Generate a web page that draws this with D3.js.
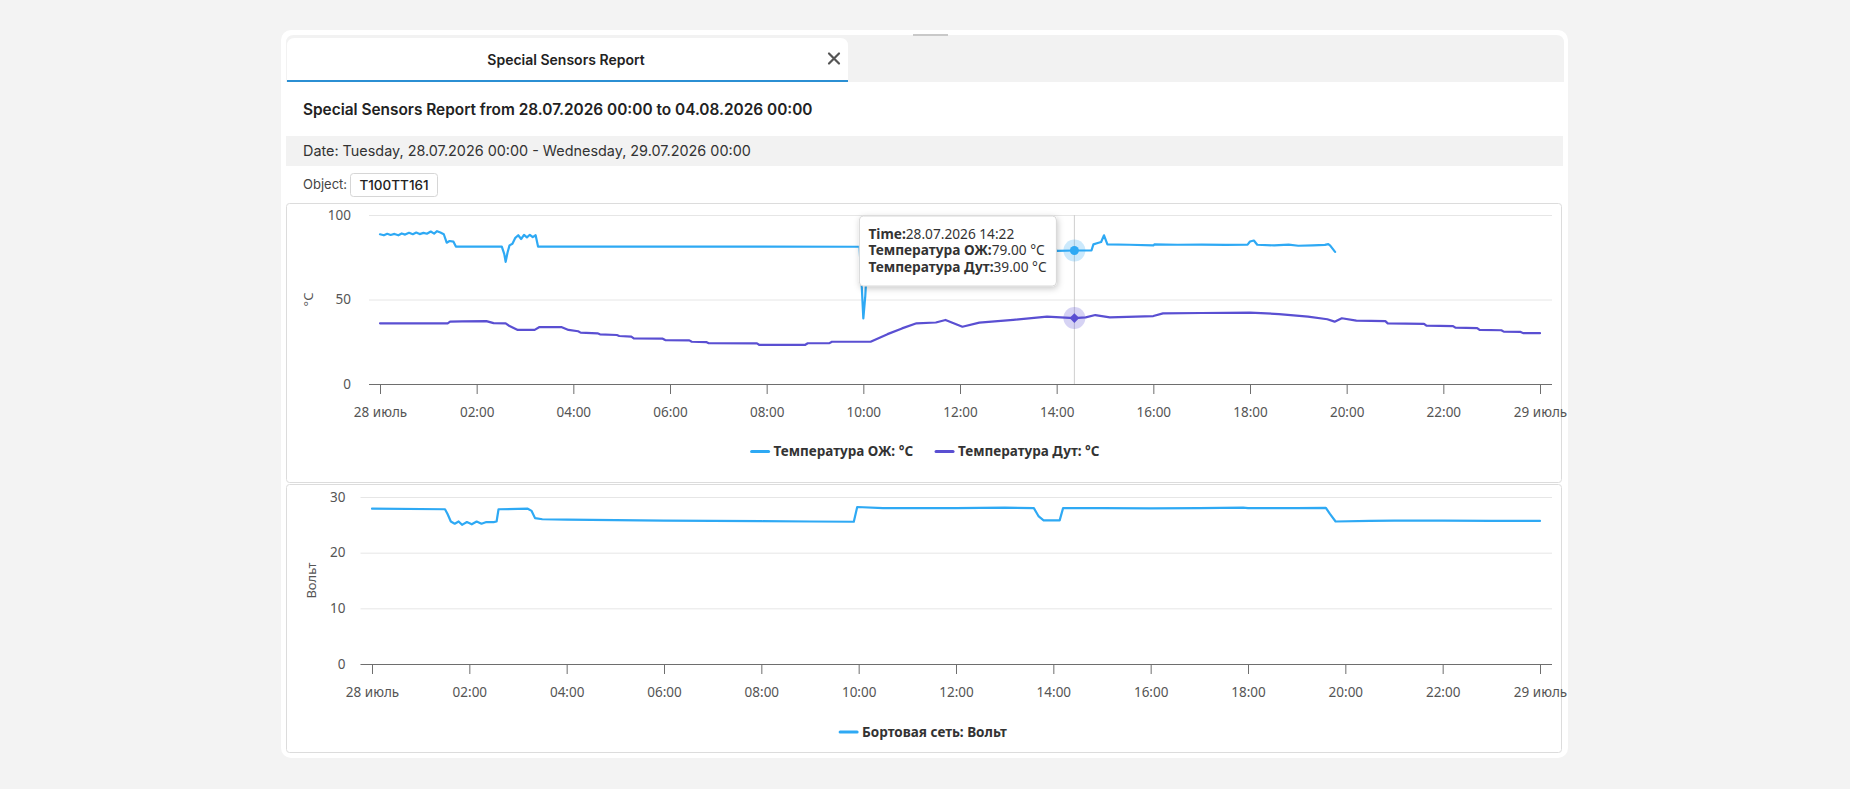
<!DOCTYPE html>
<html>
<head>
<meta charset="utf-8">
<script src="https://cdn.jsdelivr.net/npm/d3@7/dist/d3.min.js"></script>
<style>
  body { margin: 0; background: #f3f3f3; }
  svg { display: block; }
</style>
</head>
<body>
<div id="page"></div>
<script>
// texts of the report page
const tabTitle = "Special Sensors Report";
const headerText = "Special Sensors Report from 28.07.2026 00:00 to 04.08.2026 00:00";
const dateText = "Date: Tuesday, 28.07.2026 00:00 - Wednesday, 29.07.2026 00:00";
const objectLabel = "Object:";
const objectName = "T100TT161";

// series: [hour of 28.07.2026, value]
const coolant = [
  [0.00,88.6],[0.08,88.0],[0.15,88.9],[0.22,88.2],[0.30,88.8],[0.38,88.0],[0.45,89.1],[0.52,88.4],
  [0.60,89.5],[0.68,88.6],[0.75,89.6],[0.82,88.7],[0.90,89.4],[0.97,88.9],[1.05,90.2],[1.12,89.0],
  [1.18,90.4],[1.25,89.6],[1.32,88.6],[1.38,83.6],[1.44,84.6],[1.52,84.2],[1.57,81.3],[2.52,81.3],
  [2.57,77.0],[2.60,72.3],[2.64,78.0],[2.68,82.0],[2.74,83.0],[2.80,86.5],[2.86,88.0],[2.92,85.8],
  [2.98,88.2],[3.04,86.8],[3.10,88.3],[3.16,86.9],[3.22,88.0],[3.27,81.3],[9.92,81.2],[9.96,62.0],
  [10.00,38.8],[10.04,52.0],[10.09,78.0],[10.15,81.2],[12.00,81.2],[13.95,81.0],[14.00,78.8],
  [14.3667,79.0],[14.72,79.0],[14.76,82.6],[14.85,83.4],[14.92,84.0],[14.98,88.0],[15.05,82.6],
  [15.50,82.4],[16.00,82.0],[16.02,82.6],[16.50,82.4],[17.00,82.5],[17.50,82.3],[17.95,82.5],
  [18.00,84.3],[18.08,84.9],[18.15,82.4],[18.50,82.0],[18.80,82.5],[19.00,81.8],[19.30,82.0],
  [19.55,82.3],[19.62,82.8],[19.66,81.9],[19.76,78.2]
];
const blast = [
  [0.00,35.9],[1.40,35.9],[1.45,36.9],[1.70,37.0],[2.20,37.2],[2.35,36.0],[2.60,35.9],[2.68,34.3],
  [2.85,32.0],[3.20,32.0],[3.30,33.7],[3.75,33.7],[3.90,32.0],[4.10,31.2],[4.15,30.4],[4.50,30.0],
  [4.55,29.4],[4.90,29.0],[4.95,28.4],[5.20,28.0],[5.25,27.0],[5.85,26.8],[5.90,26.0],[6.40,25.8],
  [6.45,25.0],[6.75,24.8],[6.80,24.1],[7.80,24.0],[7.85,23.1],[8.80,23.2],[8.85,24.1],[9.30,24.2],
  [9.35,25.0],[10.15,25.0],[10.50,29.5],[10.80,32.9],[11.10,35.9],[11.50,36.4],[11.70,37.9],
  [12.05,33.9],[12.40,36.3],[13.10,37.9],[13.80,39.9],[14.3667,39.0],[14.60,39.4],[14.80,40.8],
  [15.10,39.4],[16.00,40.2],[16.20,41.8],[17.00,42.0],[18.00,42.2],[18.60,41.4],[19.20,39.9],
  [19.60,38.3],[19.75,36.9],[19.90,38.9],[20.20,37.5],[20.80,37.2],[20.85,35.9],[21.60,35.6],
  [21.65,34.5],[22.20,34.3],[22.25,33.3],[22.70,33.1],[22.75,32.0],[23.20,31.8],[23.25,31.0],
  [23.60,30.8],[23.65,30.1],[24.00,30.1]
];
const voltage = [
  [0.00,27.9],[1.50,27.8],[1.55,27.0],[1.62,25.6],[1.70,25.2],[1.78,25.6],[1.85,25.0],[1.95,25.5],
  [2.05,25.1],[2.15,25.6],[2.25,25.2],[2.35,25.5],[2.50,25.5],[2.56,25.6],[2.60,27.8],[3.20,27.9],
  [3.28,27.5],[3.35,26.2],[3.50,26.0],[4.00,25.95],[5.00,25.85],[6.00,25.75],[7.00,25.7],
  [8.00,25.65],[9.00,25.6],[9.90,25.55],[9.97,28.2],[10.50,28.0],[11.00,28.0],[12.00,28.0],
  [13.00,28.1],[13.60,28.0],[13.70,26.5],[13.80,25.8],[14.13,25.8],[14.20,28.0],[15.00,28.0],
  [16.00,27.95],[17.00,28.0],[17.90,28.1],[18.00,28.0],[19.00,28.0],[19.60,28.05],[19.68,27.0],
  [19.80,25.6],[20.50,25.7],[21.00,25.75],[22.00,25.75],[23.00,25.7],[24.00,25.7]
];

const tempTicks = [0, 50, 100];
const voltTicks = [0, 10, 20, 30];
const hoverHour = 14 + 22 / 60;

const blue = "#2ea9f4", purple = "#5a4fd2";
const day0 = new Date(2026, 6, 28, 0, 0);
const day1 = new Date(2026, 6, 29, 0, 0);
const toDate = h => new Date(day0.getTime() + Math.round(h * 3600000));

const svg = d3.select("#page").append("svg")
    .attr("width", 1850)
    .attr("height", 789);

const defs = svg.append("defs");
const shadow = defs.append("filter").attr("id", "shadow")
    .attr("x", "-20%").attr("y", "-30%").attr("width", "140%").attr("height", "170%");
shadow.append("feDropShadow").attr("dx", 1).attr("dy", 2).attr("stdDeviation", 3)
    .attr("flood-color", "#000").attr("flood-opacity", 0.22);

///////////////////
// page frame
///////////////////

svg.append("rect").attr("x", 281).attr("y", 30).attr("width", 1287).attr("height", 728)
    .attr("rx", 10).attr("fill", "#fff");

// tab bar
svg.append("path")
    .attr("d", "M286,82 V43 Q286,35 294,35 H1556 Q1564,35 1564,43 V82 Z")
    .attr("fill", "#f2f2f2");
svg.append("line").attr("x1", 913).attr("x2", 948).attr("y1", 35).attr("y2", 35)
    .attr("stroke", "#c9c9c9").attr("stroke-width", 2);
svg.append("path")
    .attr("d", "M287,82 V46 Q287,38 295,38 H840 Q848,38 848,46 V82 Z")
    .attr("fill", "#fff");
svg.append("rect").attr("x", 287).attr("y", 80).attr("width", 561).attr("height", 2)
    .attr("fill", "#2b8fd3");
svg.append("text").attr("x", 566).attr("y", 65).attr("text-anchor", "middle")
    .attr("style", "font: 600 14px Inter, sans-serif; fill: #222")
    .text(tabTitle);
svg.append("path").attr("d", "M829,53.5 L839,63.5 M839,53.5 L829,63.5")
    .attr("stroke", "#555").attr("stroke-width", 2.2).attr("stroke-linecap", "round");

// header + date bar + object
svg.append("text").attr("x", 303).attr("y", 115)
    .attr("style", "font: 600 15.4px Inter, sans-serif; fill: #222")
    .text(headerText);
svg.append("rect").attr("x", 286).attr("y", 136).attr("width", 1277).attr("height", 30)
    .attr("fill", "#f2f2f2");
svg.append("text").attr("x", 303).attr("y", 156)
    .attr("style", "font: 14.4px Inter, sans-serif; fill: #333")
    .text(dateText);
svg.append("text").attr("x", 303).attr("y", 189)
    .attr("style", "font: 13px Inter, sans-serif; fill: #444")
    .text(objectLabel);
svg.append("rect").attr("x", 350.5).attr("y", 173.5).attr("width", 87).attr("height", 23)
    .attr("rx", 3).attr("fill", "#fff").attr("stroke", "#d6d6d6");
svg.append("text").attr("x", 394).attr("y", 190).attr("text-anchor", "middle")
    .attr("style", "font: 500 13.5px Inter, sans-serif; fill: #222")
    .text(objectName);

// chart panels
svg.append("rect").attr("x", 286.5).attr("y", 203.5).attr("width", 1275).attr("height", 279)
    .attr("rx", 3).attr("fill", "#fff").attr("stroke", "#dcdcdc");
svg.append("rect").attr("x", 286.5).attr("y", 484.5).attr("width", 1275).attr("height", 268)
    .attr("rx", 3).attr("fill", "#fff").attr("stroke", "#dcdcdc");

///////////////////
// charts
///////////////////

const axisColor = "#6e6e6e", labelColor = "#555";
const labelFont = "font: 13.5px 'Noto Sans', sans-serif; fill:" + labelColor;
const tickFormat = d => d.getHours() === 0 ? d.getDate() + " июль" : d3.timeFormat("%H:%M")(d);

function drawChart(c) {
  const g = svg.append("g");
  const x = d3.scaleTime().domain([day0, day1]).range([c.dx0, c.dx1]);
  const y = d3.scaleLinear().domain(c.domain).range([c.y0, c.y1]);

  // grid + y labels
  const ya = g.append("g").attr("transform", "translate(" + c.gx0 + ",0)")
      .call(d3.axisLeft(y).tickValues(c.ticks).tickSize(-(c.gx1 - c.gx0)).tickPadding(c.pad));
  ya.select(".domain").remove();
  ya.selectAll("line").attr("stroke", "#e6e6e6");
  ya.selectAll("text").attr("style", labelFont);

  // x axis
  const xa = g.append("g").attr("transform", "translate(0," + c.y0 + ")")
      .call(d3.axisBottom(x).ticks(d3.timeHour.every(2)).tickFormat(tickFormat)
        .tickSize(10).tickPadding(13));
  xa.select(".domain").remove();
  xa.selectAll("line").attr("stroke", axisColor);
  xa.selectAll("text").attr("style", labelFont);
  g.append("line").attr("x1", c.gx0).attr("x2", c.gx1).attr("y1", c.y0 + 0.5).attr("y2", c.y0 + 0.5)
      .attr("stroke", axisColor);

  // axis name
  g.append("text")
      .attr("transform", "translate(" + c.nameX + "," + ((c.y0 + c.y1) / 2) + ") rotate(-90)")
      .attr("text-anchor", "middle").attr("dy", "0.35em")
      .attr("style", "font: 13px 'Noto Sans', sans-serif; fill:" + labelColor)
      .text(c.name);

  // lines
  const line = d3.line().x(d => x(toDate(d[0]))).y(d => y(d[1]));
  c.series.forEach(s => {
    g.append("path").datum(s.data).attr("d", line)
        .attr("fill", "none").attr("stroke", s.color).attr("stroke-width", 2.2)
        .attr("stroke-linejoin", "round").attr("stroke-linecap", "round");
  });

  // legend, centred under the plot
  const lg = g.append("g");
  let cx = 0;
  c.series.forEach((s, i) => {
    const it = lg.append("g").attr("transform", "translate(" + cx + ",0)");
    it.append("line").attr("x1", 1).attr("x2", 18).attr("y1", 0).attr("y2", 0)
        .attr("stroke", s.color).attr("stroke-width", 3).attr("stroke-linecap", "round");
    const t = it.append("text").attr("x", 23).attr("dy", "0.35em")
        .attr("style", "font: bold 13.5px 'Noto Sans', sans-serif; fill: #333")
        .text(s.name);
    cx += 23 + t.node().getComputedTextLength() + 22;
  });
  cx -= 22;
  lg.attr("transform", "translate(" + (c.legendX - cx / 2) + "," + c.legendY + ")");

  return { x: x, y: y, g: g };
}

const tempSeries = [
  { name: "Температура ОЖ: °C", color: blue, data: coolant, unit: "°C", label: "Температура ОЖ:" },
  { name: "Температура Дут: °C", color: purple, data: blast, unit: "°C", label: "Температура Дут:" }
];

const tempChart = drawChart({
  gx0: 369, gx1: 1552, dx0: 380, dx1: 1540, y0: 384, y1: 215,
  domain: [0, 100], ticks: tempTicks, pad: 18, name: "°C", nameX: 308,
  series: tempSeries, legendX: 925, legendY: 451.5
});

drawChart({
  gx0: 360.5, gx1: 1552, dx0: 372, dx1: 1540, y0: 664, y1: 497,
  domain: [0, 30], ticks: voltTicks, pad: 15, name: "Вольт", nameX: 311,
  series: [{ name: "Бортовая сеть: Вольт", color: blue, data: voltage }],
  legendX: 923, legendY: 732
});

///////////////////
// hover state at 14:22
///////////////////

const hx = tempChart.x(toDate(hoverHour));
tempChart.g.append("line").attr("x1", hx).attr("x2", hx).attr("y1", 215).attr("y2", 384)
    .attr("stroke", "#cfcfcf");

const hoverVals = tempSeries.map(s => s.data.find(d => Math.abs(d[0] - hoverHour) < 0.01)[1]);
tempSeries.forEach((s, i) => {
  const py = tempChart.y(hoverVals[i]);
  tempChart.g.append("circle").attr("cx", hx).attr("cy", py).attr("r", 11)
      .attr("fill", s.color).attr("opacity", 0.25);
  if (i === 0)
    tempChart.g.append("circle").attr("cx", hx).attr("cy", py).attr("r", 4.5).attr("fill", s.color);
  else
    tempChart.g.append("path").attr("transform", "translate(" + hx + "," + py + ")")
        .attr("d", d3.symbol(d3.symbolDiamond2, 60)()).attr("fill", s.color);
});

const tip = tempChart.g.append("g").attr("transform", "translate(" + (hx - 215) + ",216)");
tip.append("rect").attr("width", 197).attr("height", 70).attr("rx", 4)
    .attr("fill", "#fff").attr("stroke", "#d8d8d8").attr("filter", "url(#shadow)");
const tipRows = [["Time:", d3.timeFormat("%d.%m.%Y %H:%M")(toDate(hoverHour))]]
    .concat(tempSeries.map((s, i) => [s.label, hoverVals[i].toFixed(2) + " " + s.unit]));
tipRows.forEach((r, i) => {
  const t = tip.append("text").attr("x", 9).attr("y", 22.5 + i * 16.5)
      .attr("style", "font: 13.7px 'Noto Sans', sans-serif; fill: #333");
  t.append("tspan").attr("font-weight", "bold").text(r[0]);
  t.append("tspan").text(r[1]);
});
</script>
</body>
</html>
